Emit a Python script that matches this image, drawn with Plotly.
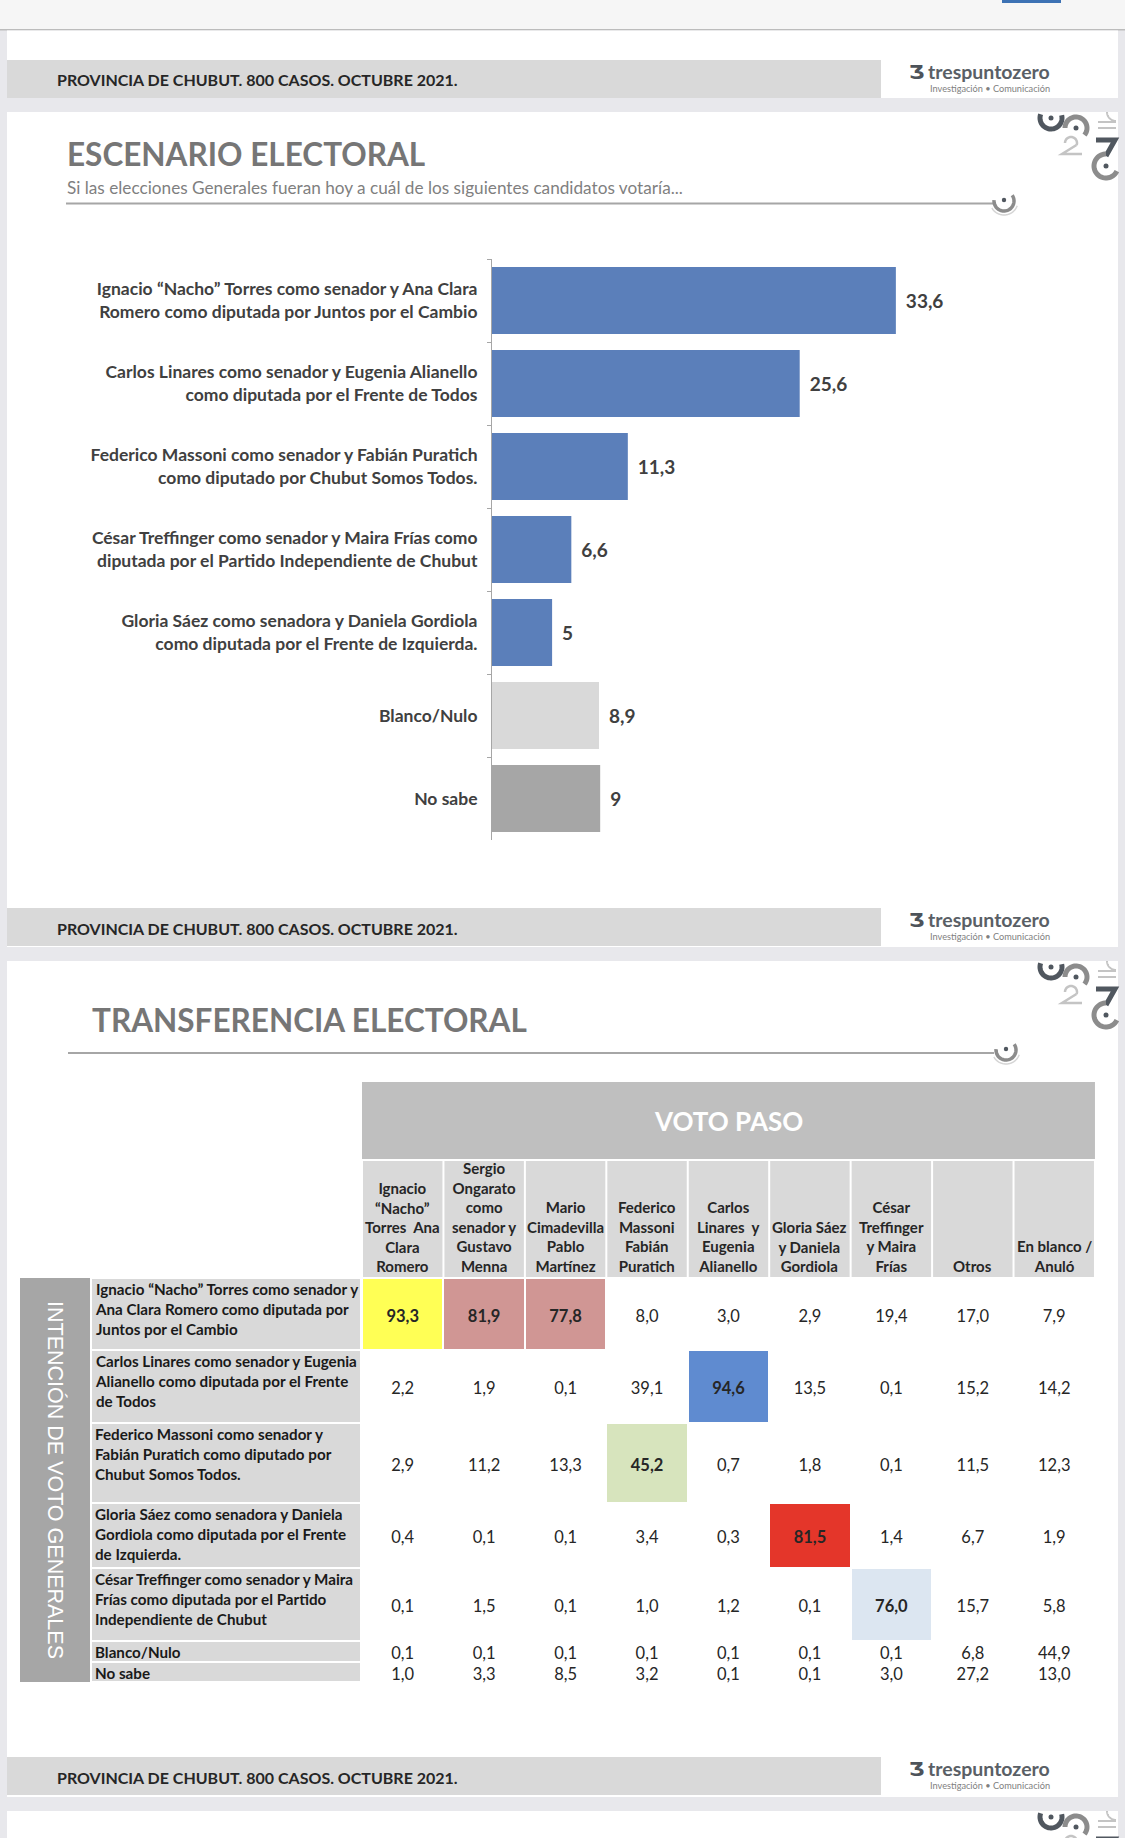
import math
import plotly.graph_objects as go

W, H = 1125, 1838
FONT = "Lato, 'Open Sans', 'DejaVu Sans', sans-serif"

# ---------------- DATA ----------------
BAR_LABELS = [
    "Ignacio “Nacho” Torres como senador y Ana Clara<br>Romero como diputada por Juntos por el Cambio",
    "Carlos Linares como senador y Eugenia Alianello<br>como diputada por el Frente de Todos",
    "Federico Massoni como senador y Fabián Puratich<br>como diputado por Chubut Somos Todos.",
    "César Treffinger como senador y Maira Frías como<br>diputada por el Partido Independiente de Chubut",
    "Gloria Sáez como senadora y Daniela Gordiola<br>como diputada por el Frente de Izquierda.",
    "Blanco/Nulo",
    "No sabe",
]
BAR_VALUES = [33.6, 25.6, 11.3, 6.6, 5, 8.9, 9]

COL_HEADERS = [
    "Ignacio<br>“Nacho”<br>Torres  Ana<br>Clara<br>Romero",
    "Sergio<br>Ongarato<br>como<br>senador y<br>Gustavo<br>Menna",
    "Mario<br>Cimadevilla<br>Pablo<br>Martínez",
    "Federico<br>Massoni<br>Fabián<br>Puratich",
    "Carlos<br>Linares  y<br>Eugenia<br>Alianello",
    "Gloria Sáez<br>y Daniela<br>Gordiola",
    "César<br>Treffinger<br>y Maira<br>Frías",
    "Otros",
    "En blanco /<br>Anuló",
]
ROW_LABELS = [
    "Ignacio “Nacho” Torres como senador y<br>Ana Clara Romero como diputada por<br>Juntos por el Cambio",
    "Carlos Linares como senador y Eugenia<br>Alianello como diputada por el Frente<br>de Todos",
    "Federico Massoni como senador y<br>Fabián Puratich como diputado por<br>Chubut Somos Todos.",
    "Gloria Sáez como senadora y Daniela<br>Gordiola como diputada por el Frente<br>de Izquierda.",
    "César Treffinger como senador y Maira<br>Frías como diputada por el Partido<br>Independiente de Chubut",
    "Blanco/Nulo",
    "No sabe",
]
ROW_TORRES = [93.3, 81.9, 77.8, 8.0, 3.0, 2.9, 19.4, 17.0, 7.9]
ROW_LINARES = [2.2, 1.9, 0.1, 39.1, 94.6, 13.5, 0.1, 15.2, 14.2]
ROW_MASSONI = [2.9, 11.2, 13.3, 45.2, 0.7, 1.8, 0.1, 11.5, 12.3]
ROW_SAEZ = [0.4, 0.1, 0.1, 3.4, 0.3, 81.5, 1.4, 6.7, 1.9]
ROW_TREFFINGER = [0.1, 1.5, 0.1, 1.0, 1.2, 0.1, 76.0, 15.7, 5.8]
ROW_BLANCO = [0.1, 0.1, 0.1, 0.1, 0.1, 0.1, 0.1, 6.8, 44.9]
ROW_NOSABE = [1.0, 3.3, 8.5, 3.2, 0.1, 0.1, 3.0, 27.2, 13.0]
TRANSFER = [ROW_TORRES, ROW_LINARES, ROW_MASSONI, ROW_SAEZ, ROW_TREFFINGER, ROW_BLANCO, ROW_NOSABE]

# ---------------- STYLE ----------------
BAR_COLORS = ["#5b7fba"] * 5 + ["#d9d9d9", "#a6a6a6"]
HL_COLORS = ["#ffffff", "#ffff55", "#d09694", "#5f8bd0", "#d7e4bd", "#e4362a", "#dce6f1"]
HIGHLIGHT = {(0, 0): 1, (0, 1): 2, (0, 2): 2, (1, 4): 3, (2, 3): 4, (3, 5): 5, (4, 6): 6}

# table geometry (page pixels)
COL_LEFT, COL_W = 362, 81.44
ROW_EDGES = [1278, 1350, 1423, 1503, 1568, 1641, 1662, 1682]
HDR1 = (1082, 1159)
HDR2 = (1161, 1277)
VALUE_DY = 3.5


def px(x):
    return x / W


def py(y):
    return 1 - y / H


def ux(p):
    return (p - COL_LEFT) / COL_W - 0.5


def fmt_bar(v):
    return f"{v:g}".replace(".", ",")


def fmt_tab(v):
    return f"{v:.1f}".replace(".", ",")


fig = go.Figure()

# ---- bar chart ----
fig.add_trace(go.Bar(
    x=BAR_VALUES, y=BAR_LABELS, orientation="h",
    marker=dict(color=BAR_COLORS, line=dict(width=0)),
    text=[fmt_bar(v) for v in BAR_VALUES], texttemplate="\u2009 %{text}", textposition="outside",
    textfont=dict(family=FONT, size=19, color="#404040", weight="bold"),
    cliponaxis=False, hoverinfo="skip", xaxis="x", yaxis="y",
))

# ---- table cells (heatmap) ----
codes = [[HIGHLIGHT.get((i, j), 0) for j in range(len(COL_HEADERS))] for i in range(len(TRANSFER))]
k = len(HL_COLORS)
cs = []
for i, c in enumerate(HL_COLORS):
    cs.append([i / k, c])
    cs.append([(i + 1) / k, c])
fig.add_trace(go.Heatmap(
    z=codes, x=[j - 0.5 for j in range(len(COL_HEADERS) + 1)], y=ROW_EDGES,
    colorscale=cs, zmin=-0.5, zmax=k - 0.5, showscale=False,
    xgap=2, ygap=2, hoverinfo="skip", xaxis="x2", yaxis="y2",
))

xs, ys, txt = [], [], []
for i, row in enumerate(TRANSFER):
    yc = (ROW_EDGES[i] + ROW_EDGES[i + 1]) / 2 + VALUE_DY
    for j, v in enumerate(row):
        xs.append(j)
        ys.append(yc)
        t = fmt_tab(v)
        txt.append(f"<b>{t}</b>" if (i, j) in HIGHLIGHT else t)
fig.add_trace(go.Scatter(
    x=xs, y=ys, mode="text", text=txt,
    textfont=dict(family=FONT, size=16.5, color="#262626"),
    hoverinfo="skip", xaxis="x2", yaxis="y2", cliponaxis=False,
))

shapes = []
annotations = []


def rect(x0, y0, x1, y1, fill, layer="below"):
    shapes.append(dict(type="rect", xref="paper", yref="paper",
                       x0=px(x0), x1=px(x1), y0=py(y1), y1=py(y0),
                       fillcolor=fill, line=dict(width=0), layer=layer))


def arc(cx, cy, r, a0, a1, color, width, n=40):
    pts = []
    for s in range(n + 1):
        a = math.radians(a0 + (a1 - a0) * s / n)
        pts.append((cx + r * math.cos(a), cy + r * math.sin(a)))
    path = "M " + " L ".join(f"{px(x):.5f},{py(y):.5f}" for x, y in pts)
    shapes.append(dict(type="path", xref="paper", yref="paper", path=path,
                       line=dict(color=color, width=width), layer="above"))


def poly(pts, color, width):
    path = "M " + " L ".join(f"{px(x):.5f},{py(y):.5f}" for x, y in pts)
    shapes.append(dict(type="path", xref="paper", yref="paper", path=path,
                       line=dict(color=color, width=width), layer="above"))


def dot(cx, cy, r, color):
    shapes.append(dict(type="circle", xref="paper", yref="paper",
                       x0=px(cx - r), x1=px(cx + r), y0=py(cy + r), y1=py(cy - r),
                       fillcolor=color, line=dict(width=0), layer="above"))


def ann(text, x, y, size, color, xanchor="left", yanchor="middle", bold=False,
        family=FONT, align="left", angle=0):
    f = dict(family=family, size=size, color=color)
    if bold:
        f["weight"] = "bold"
    annotations.append(dict(text=text, x=px(x), y=py(y), xref="paper", yref="paper",
                            xanchor=xanchor, yanchor=yanchor, showarrow=False,
                            font=f, align=align, textangle=angle))


DARK, MID, LIGHT = "#50575f", "#8c8c8c", "#c4c4c4"

# ---- page background ----
rect(0, 0, W, 29, "#f6f6f6")
rect(0, 29, W, 30.5, "#bcbcbc")
rect(1002, 0, 1061, 3, "#3d72b4")
for (t, b) in [(30.5, 98), (112, 947), (961, 1797), (1811, H)]:
    rect(7, t, 1118, b, "#ffffff")

# footers
for off in [0, 848, 1697]:
    rect(7, 60 + off, 881, 98 + off, "#d9d9d9")
    ann("PROVINCIA DE CHUBUT. 800 CASOS. OCTUBRE 2021.", 55, 80 + off, 16, "#262626", bold=True)
    ann("Ʒ", 916, 72 + off, 20, "#4d535a", xanchor="center", family="'DejaVu Sans', sans-serif", bold=True)
    ann("trespuntozero", 926, 71 + off, 19.5, "#5a5f66", bold=True)
    ann("Investigación • Comunicación", 928, 88 + off, 9.2, "#808080")


# corner decorations
def deco(off):
    arc(1051, 118 + off, 11, 200, -15, DARK, 5)
    dot(1051, 118 + off, 2.5, DARK)
    arc(1076, 128 + off, 11, 180, 400, MID, 5)
    dot(1076, 128 + off, 2.5, DARK)
    arc(1071, 143 + off, 6, 180, 380, LIGHT, 2.5)
    poly([(1076.5, 145 + off), (1062, 154 + off), (1082, 154 + off)], LIGHT, 2.5)
    poly([(1096, 140 + off), (1115, 140 + off), (1106, 156 + off)], DARK, 5)
    arc(1106, 166 + off, 12, 270, 25, MID, 5)
    dot(1106, 166 + off, 2.5, DARK)
    poly([(1098, 122 + off), (1116, 122 + off)], LIGHT, 2)
    poly([(1098, 128 + off), (1116, 128 + off)], LIGHT, 2)
    arc(1116, 112 + off, 9, 180, 90, LIGHT, 2)


for off in [0, 849, 1699]:
    deco(off)


def swirl(cx, cy):
    arc(cx, cy, 10, 185, -35, MID, 3.5)
    arc(cx, cy, 14, 150, 20, "#d4d4d4", 1.5)
    dot(cx, cy - 1, 2.2, DARK)


# slide 2 titles
ann("ESCENARIO ELECTORAL", 65, 154, 31.5, "#767676", bold=True)
ann("Si las elecciones Generales fueran hoy a cuál de los siguientes candidatos votaría...",
    65, 188, 17.2, "#7f7f7f")
rect(66, 202.5, 994, 204.5, "#a6a6a6", layer="above")
swirl(1004, 201)

# slide 3 titles
ann("TRANSFERENCIA ELECTORAL", 90, 1020, 31.5, "#767676", bold=True)
rect(68, 1052, 994, 1054, "#a6a6a6", layer="above")
swirl(1006, 1050)


# ---- table decorations in axis units ----
def trect(x0, y0, x1, y1, fill):
    shapes.append(dict(type="rect", xref="x2", yref="y2", x0=x0, x1=x1, y0=y0, y1=y1,
                       fillcolor=fill, line=dict(width=0), layer="below"))


gap = 1 / COL_W
trect(-0.5, HDR1[0], len(COL_HEADERS) - 0.5, HDR1[1], "#bfbfbf")
for j in range(len(COL_HEADERS)):
    trect(j - 0.5 + gap, HDR2[0], j + 0.5 - gap, HDR2[1], "#d9d9d9")
    annotations.append(dict(text=COL_HEADERS[j], x=j, y=HDR2[1], xref="x2", yref="y2",
                            xanchor="center", yanchor="bottom", showarrow=False, align="center",
                            font=dict(family=FONT, size=15, color="#262626", weight="bold")))
annotations.append(dict(text="VOTO PASO", x=(len(COL_HEADERS) - 1) / 2, y=sum(HDR1) / 2,
                        xref="x2", yref="y2", showarrow=False,
                        font=dict(family=FONT, size=26, color="#ffffff", weight="bold")))
trect(ux(20), ROW_EDGES[0], ux(90), ROW_EDGES[-1], "#a6a6a6")
annotations.append(dict(text="INTENCIÓN DE VOTO GENERALES", x=ux(56), y=(ROW_EDGES[0] + ROW_EDGES[-1]) / 2,
                        xref="x2", yref="y2", showarrow=False, textangle=90,
                        font=dict(family="'Liberation Sans', Arial, sans-serif", size=21.5, color="#ffffff")))
for i, lab in enumerate(ROW_LABELS):
    trect(ux(92), ROW_EDGES[i] + 1, ux(360), ROW_EDGES[i + 1] - 1, "#d9d9d9")
    annotations.append(dict(text=lab, x=ux(93), y=ROW_EDGES[i], xref="x2", yref="y2",
                            xanchor="left", yanchor="top", showarrow=False, align="left",
                            font=dict(family=FONT, size=15.2, color="#1a1a1a", weight="bold")))

fig.update_layout(
    width=W, height=H, margin=dict(l=0, r=0, t=0, b=0),
    paper_bgcolor="#e8e8ec", plot_bgcolor="rgba(0,0,0,0)",
    showlegend=False, bargap=0.19,
    xaxis=dict(domain=[492 / W, 1093 / W], range=[0, 50], visible=False, fixedrange=True, anchor="y"),
    yaxis=dict(domain=[1 - 840 / H, 1 - 259 / H], type="category", autorange="reversed",
               showline=True, linecolor="#a6a6a6", linewidth=1, ticks="outside", tickson="boundaries",
               ticklen=4, tickcolor="#a6a6a6", showgrid=False, anchor="x", fixedrange=True,
               tickfont=dict(family=FONT, size=17.5, color="#404040", weight="bold"),
               ticklabelstandoff=10),
    xaxis2=dict(domain=[0, 1], range=[ux(0), ux(W)], visible=False, anchor="y2", fixedrange=True),
    yaxis2=dict(domain=[0, 1], range=[H, 0], visible=False, anchor="x2", fixedrange=True),
    shapes=shapes, annotations=annotations,
)

fig.write_html(
    "out.html",
    config={"displayModeBar": False},
    post_script="document.body.style.margin='0';document.body.style.overflow='hidden';",
)
